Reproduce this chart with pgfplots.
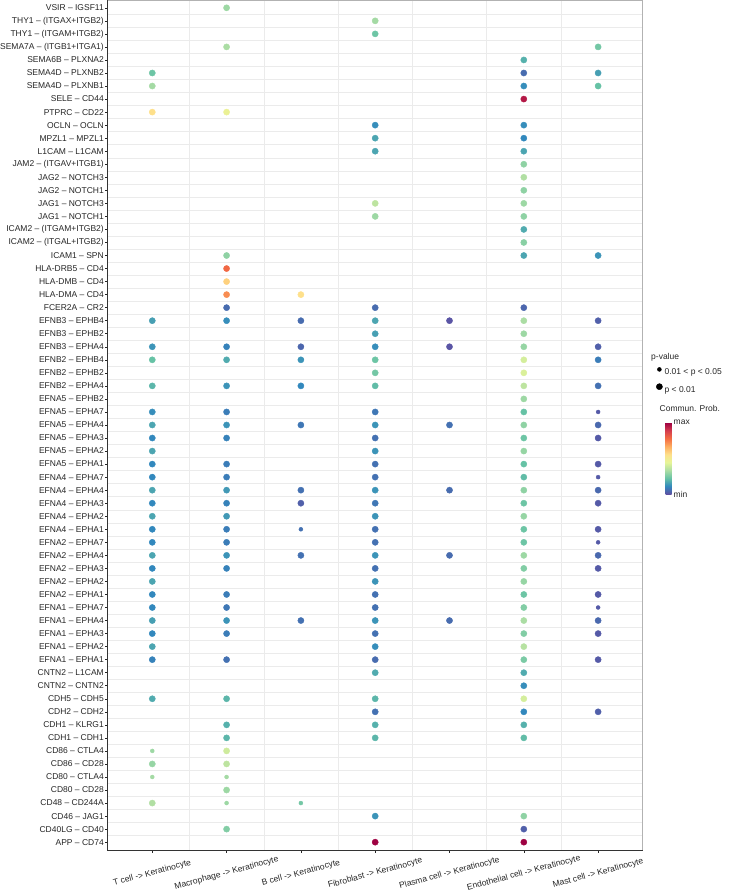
\documentclass[border=0pt]{standalone}
\usepackage{pgfplots}
\usepackage{pgfplotstable}
\usepackage{fontspec}
\setmainfont{Liberation Sans}
\pgfplotsset{compat=1.18}

\pgfplotstableread{
x r c s
1 0 2.8 3.1
3 1 2.9 3.1
3 2 2.1 3.1
1 3 3.0 3.1
6 3 2.2 3.1
5 4 1.7 3.1
0 5 2.1 3.1
5 5 0.5 3.1
6 5 1.4 3.1
0 6 2.9 3.1
5 6 1.1 3.1
6 6 2.0 3.1
5 7 8.6 3.1
0 8 5.0 3.1
1 8 4.2 3.1
3 9 1.1 3.1
5 9 1.1 3.1
3 10 1.5 3.1
5 10 1.0 3.1
3 11 1.5 3.1
5 11 1.5 3.1
5 12 2.6 3.1
5 13 3.1 3.1
5 14 2.6 3.1
3 15 3.3 3.1
5 15 2.8 3.1
3 16 2.8 3.1
5 16 2.6 3.1
5 17 1.6 3.1
5 18 2.5 3.1
1 19 2.6 3.1
5 19 1.5 3.1
6 19 1.2 3.1
1 20 7.1 3.1
1 21 5.3 3.1
1 22 6.5 3.1
2 22 5.0 3.1
1 23 0.5 3.1
3 23 0.5 3.1
5 23 0.4 3.1
0 24 1.4 3.1
1 24 1.1 3.1
2 24 0.5 3.1
3 24 1.5 3.1
4 24 0.1 3.1
5 24 3.0 3.1
6 24 0.3 3.1
3 25 1.4 3.1
5 25 2.8 3.1
0 26 1.2 3.1
1 26 0.9 3.1
2 26 0.4 3.1
3 26 1.1 3.1
4 26 0.1 3.1
5 26 2.7 3.1
6 26 0.3 3.1
0 27 2.0 3.1
1 27 1.6 3.1
2 27 1.2 3.1
3 27 2.1 3.1
5 27 3.7 3.1
6 27 0.8 3.1
3 28 2.2 3.1
5 28 3.8 3.1
0 29 1.8 3.1
1 29 1.2 3.1
2 29 1.0 3.1
3 29 1.9 3.1
5 29 3.3 3.1
6 29 0.6 3.1
5 30 2.8 3.1
0 31 1.1 3.1
1 31 0.8 3.1
3 31 0.7 3.1
5 31 2.0 3.1
6 31 0.2 2.0
0 32 1.5 3.1
1 32 1.2 3.1
2 32 0.7 3.1
3 32 1.2 3.1
4 32 0.6 3.1
5 32 2.6 3.1
6 32 0.45 3.1
0 33 1.0 3.1
1 33 0.9 3.1
3 33 0.6 3.1
5 33 2.1 3.1
6 33 0.2 3.1
0 34 1.5 3.1
3 34 1.2 3.1
5 34 2.7 3.1
0 35 1.0 3.1
1 35 0.8 3.1
3 35 0.6 3.1
5 35 2.0 3.1
6 35 0.2 3.1
0 36 1.0 3.1
1 36 0.8 3.1
3 36 0.6 3.1
5 36 1.9 3.1
6 36 0.2 2.0
0 37 1.5 3.1
1 37 1.3 3.1
2 37 0.6 3.1
3 37 1.2 3.1
4 37 0.5 3.1
5 37 2.6 3.1
6 37 0.45 3.1
0 38 1.0 3.1
1 38 0.9 3.1
2 38 0.3 3.1
3 38 0.7 3.1
5 38 2.1 3.1
6 38 0.2 3.1
0 39 1.5 3.1
1 39 1.3 3.1
3 39 1.2 3.1
5 39 2.7 3.1
0 40 1.0 3.1
1 40 0.8 3.1
2 40 0.6 2.0
3 40 0.6 3.1
5 40 2.1 3.1
6 40 0.2 3.1
0 41 1.0 3.1
1 41 0.8 3.1
3 41 0.6 3.1
5 41 2.1 3.1
6 41 0.2 2.0
0 42 1.5 3.1
1 42 1.2 3.1
2 42 0.6 3.1
3 42 1.2 3.1
4 42 0.5 3.1
5 42 2.8 3.1
6 42 0.45 3.1
0 43 1.0 3.1
1 43 0.9 3.1
3 43 0.6 3.1
5 43 2.4 3.1
6 43 0.2 3.1
0 44 1.5 3.1
3 44 1.2 3.1
5 44 2.7 3.1
0 45 1.0 3.1
1 45 0.8 3.1
3 45 0.6 3.1
5 45 2.1 3.1
6 45 0.2 3.1
0 46 1.0 3.1
1 46 0.7 3.1
3 46 0.6 3.1
5 46 2.4 3.1
6 46 0.2 2.0
0 47 1.4 3.1
1 47 1.2 3.1
2 47 0.6 3.1
3 47 1.2 3.1
4 47 0.5 3.1
5 47 3.0 3.1
6 47 0.45 3.1
0 48 1.0 3.1
1 48 0.8 3.1
3 48 0.6 3.1
5 48 2.4 3.1
6 48 0.2 3.1
0 49 1.5 3.1
3 49 1.1 3.1
5 49 3.2 3.1
0 50 0.9 3.1
1 50 0.6 3.1
3 50 0.5 3.1
5 50 2.3 3.1
6 50 0.2 3.1
3 51 1.6 3.1
5 51 1.6 3.1
5 52 1.1 3.1
0 53 1.6 3.1
1 53 1.8 3.1
3 53 1.8 3.1
5 53 3.7 3.1
3 54 0.6 3.1
5 54 1.0 3.1
6 54 0.3 3.1
1 55 1.7 3.1
3 55 1.7 3.1
5 55 1.7 3.1
1 56 1.8 3.1
3 56 1.8 3.1
5 56 1.9 3.1
0 57 2.8 2.0
1 57 3.6 3.1
0 58 2.7 3.1
1 58 3.3 3.1
0 59 2.9 2.0
1 59 2.9 2.0
1 60 2.8 3.1
0 61 3.1 3.1
1 61 2.8 2.0
2 61 2.2 2.0
3 62 1.2 3.1
5 62 2.6 3.1
1 63 2.4 3.1
5 63 0.3 3.1
3 64 9.0 3.1
5 64 9.0 3.1
}\dotdata

\begin{document}
\fontsize{8.5bp}{10bp}\selectfont
\begin{tikzpicture}
\useasboundingbox (0,0) rectangle (732bp,891bp);
\begin{axis}[
  at={(107.7bp,41bp)}, anchor=south west,
  scale only axis, width=535bp, height=850bp,
  xmin=-0.6, xmax=6.6, ymin=-0.6, ymax=64.6,
  clip=false,
  axis line style={draw=none},
  tick pos=left, tick align=outside, major tick length=2.7bp,
  tick style={black!85, line width=0.5bp},
  xtick={0,...,6},
  xticklabels={{T cell -{}> Keratinocyte},{Macrophage -{}> Keratinocyte},{B cell -{}> Keratinocyte},{Fibroblast -{}> Keratinocyte},{Plasma cell -{}> Keratinocyte},{Endothelial cell -{}> Keratinocyte},{Mast cell -{}> Keratinocyte}},
  xticklabel style={yshift=-20.5bp, rotate=15, anchor=center, inner sep=0pt, font=\fontsize{8.5bp}{10bp}\selectfont, text=black!85},
  ytick={0,...,64},
  yticklabels={{APP – CD74},{CD40LG – CD40},{CD46 – JAG1},{CD48 – CD244A},{CD80 – CD28},{CD80 – CTLA4},{CD86 – CD28},{CD86 – CTLA4},{CDH1 – CDH1},{CDH1 – KLRG1},{CDH2 – CDH2},{CDH5 – CDH5},{CNTN2 – CNTN2},{CNTN2 – L1CAM\ },{EFNA1 – EPHA1},{EFNA1 – EPHA2},{EFNA1 – EPHA3},{EFNA1 – EPHA4},{EFNA1 – EPHA7},{EFNA2 – EPHA1},{EFNA2 – EPHA2},{EFNA2 – EPHA3},{EFNA2 – EPHA4},{EFNA2 – EPHA7},{EFNA4 – EPHA1},{EFNA4 – EPHA2},{EFNA4 – EPHA3},{EFNA4 – EPHA4},{EFNA4 – EPHA7},{EFNA5 – EPHA1},{EFNA5 – EPHA2},{EFNA5 – EPHA3},{EFNA5 – EPHA4},{EFNA5 – EPHA7},{EFNA5 – EPHB2},{EFNB2 – EPHA4},{EFNB2 – EPHB2},{EFNB2 – EPHB4},{EFNB3 – EPHA4},{EFNB3 – EPHB2},{EFNB3 – EPHB4},{FCER2A – CR2},{HLA-DMA – CD4\ },{HLA-DMB – CD4\ },{HLA-DRB5 – CD4},{ICAM1 – SPN},{ICAM2 – (ITGAL+ITGB2)\ },{ICAM2 – (ITGAM+ITGB2)\ },{JAG1 – NOTCH1},{JAG1 – NOTCH3},{JAG2 – NOTCH1},{JAG2 – NOTCH3},{JAM2 – (ITGAV+ITGB1)\ },{L1CAM – L1CAM\ },{MPZL1 – MPZL1},{OCLN – OCLN},{PTPRC – CD22},{SELE – CD44},{SEMA4D – PLXNB1},{SEMA4D – PLXNB2},{SEMA6B – PLXNA2},{SEMA7A – (ITGB1+ITGA1)\ },{THY1 – (ITGAM+ITGB2)\ },{THY1 – (ITGAX+ITGB2)\ },{VSIR – IGSF11}},
  yticklabel style={inner sep=1bp, font=\fontsize{8.5bp}{10bp}\selectfont, text=black!85},
  minor xtick={0.5,1.5,...,5.5},
  minor ytick={0.5,1.5,...,63.5},
  minor tick length=0pt,
  xminorgrids, yminorgrids,
  minor grid style={black!8, line width=0.4bp},
  colormap={spec}{rgb255=(94,79,162) rgb255=(50,136,189) rgb255=(102,194,165) rgb255=(171,221,164) rgb255=(230,245,152) rgb255=(254,224,139) rgb255=(253,174,97) rgb255=(244,109,67) rgb255=(213,62,79) rgb255=(158,1,66)},
  point meta min=0, point meta max=9,
  colorbar,
  colorbar style={
    at={(parent axis.north east)}, anchor=north west,
    xshift=14.3bp, yshift=-422.7bp,
    width=6bp, height=71.5bp,
    ytick={0,9}, yticklabels={min,max},
    yticklabel pos=right,
    yticklabel style={font=\fontsize{8.5bp}{10bp}\selectfont, text=black!85, inner sep=2bp},
    axis line style={draw=none},
    major tick length=0pt,
    xminorgrids=false, yminorgrids=false,
    title={Commun. Prob.},
    title style={at={(0,1)}, anchor=south west, xshift=-6bp, yshift=5bp, inner sep=0pt, font=\fontsize{8.5bp}{10bp}\selectfont, text=black!85},
  },
  legend style={at={(1.0099,0.5682)}, anchor=north west, draw=none, fill=none,
    inner sep=0pt, row sep=6.5bp,
    cells={anchor=west},
    nodes={inner sep=0pt, text height=7bp, text depth=2bp, font=\fontsize{8.5bp}{10bp}\selectfont, text=black!85},
    /tikz/every even column/.append style={column sep=3bp}},
  legend cell align=left,
]
\addplot[forget plot, scatter, only marks, mark=*, point meta=explicit,
  scatter/use mapped color={draw=mapped color, fill=mapped color},
  visualization depends on={\thisrow{s} \as \ms},
  scatter/@pre marker code/.append style={/tikz/mark size=\ms}]
  table[x=x, y expr=64-\thisrow{r}, meta=c] {\dotdata};
\addlegendimage{legend image code/.code={\path (0bp,0bp) (16bp,0bp); \fill[black] (11bp,3bp) circle[radius=2.0pt];}}
\addlegendentry{0.01 < p < 0.05}
\addlegendimage{legend image code/.code={\path (0bp,0bp) (16bp,0bp); \fill[black] (11bp,3bp) circle[radius=3.1pt];}}
\addlegendentry{p < 0.01}
\draw[black!80, line width=0.6bp] (rel axis cs:0,1) -- (rel axis cs:0,0) -- (rel axis cs:1,0);
\draw[black!30, line width=0.8bp] (rel axis cs:0,1) -- (rel axis cs:1,1) -- (rel axis cs:1,0);
\node[anchor=base west, inner sep=0pt, text=black!85, font=\fontsize{8.5bp}{10bp}\selectfont] at (rel axis cs:1.0155,0.5776) {p-value};
\end{axis}
\end{tikzpicture}
\end{document}
